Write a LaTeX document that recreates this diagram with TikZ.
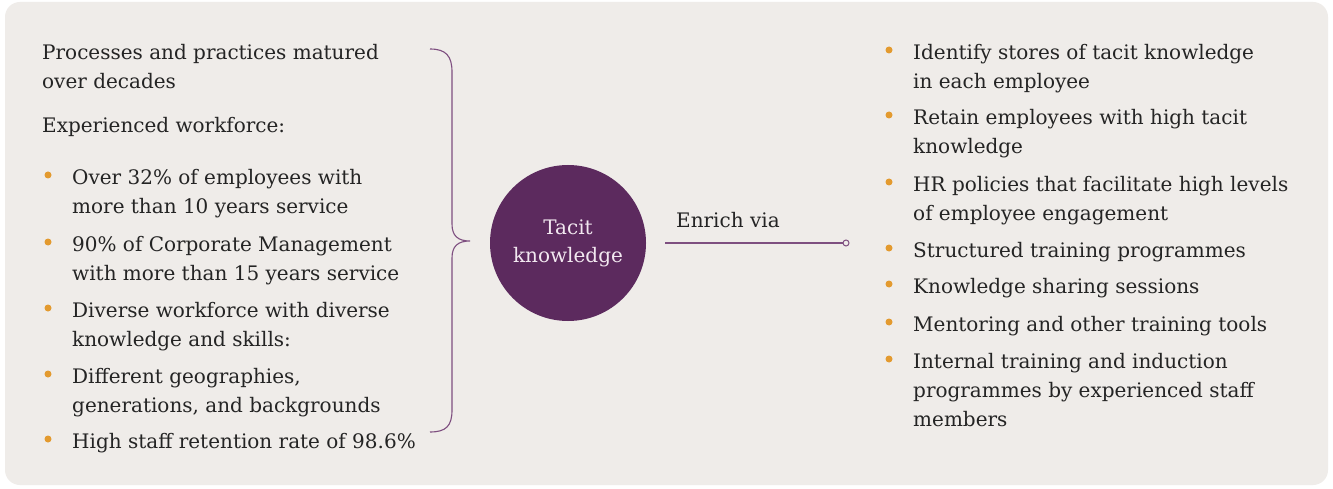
\documentclass[tikz,border=0pt]{standalone}
\usepackage{fontspec}
\setmainfont{DejaVu Serif}
\definecolor{bg}{HTML}{EFECE9}
\definecolor{txt}{HTML}{242424}
\definecolor{bul}{HTML}{E39A2F}
\definecolor{plum}{HTML}{5C2A5E}
\definecolor{lineplum}{HTML}{7E4F80}
\definecolor{ctext}{HTML}{F2E8F0}
\begin{document}
\begin{tikzpicture}[x=1pt,y=-1pt,
  item/.style={anchor=north west, inner sep=0pt, align=left, text=txt, font=\fontsize{20}{29}\selectfont},
  dot/.style={fill=bul},
  brace/.style={draw=lineplum, line width=1.1pt},
  link/.style={draw=lineplum, line width=1.1pt}]
\useasboundingbox (0,0) rectangle (1333,489);
\fill[white] (0,0) rectangle (1333,489);
\fill[bg, rounded corners=15pt] (5,2) rectangle (1328,485);
% left column
\node[item] (l1) at (42,38.7) {\strut Processes and practices matured\\over decades};
\node[item] (l2) at (42,111.7) {\strut Experienced workforce:};
\node[item] (l3) at (72,163.7) {\strut Over 32\% of employees with\\more than 10 years service};
\node[item] (l4) at (72,230.7) {\strut 90\% of Corporate Management\\with more than 15 years service};
\node[item] (l5) at (72,296.7) {\strut Diverse workforce with diverse\\knowledge and skills:};
\node[item] (l6) at (72,362.7) {\strut Different geographies,\\generations, and backgrounds};
\node[item] (l7) at (72,427.7) {\strut High staff retention rate of 98.6\%};
\foreach \y in {175,242,308,374,439} \fill[dot] (48,\y) circle (3.5);
% brace
\draw[brace] (430,49) .. controls (446,49) and (452,56) .. (452,72) -- (452,224)
  .. controls (452,236) and (458,241) .. (470,241)
  .. controls (458,241) and (452,246) .. (452,258) -- (452,410)
  .. controls (452,426) and (446,432) .. (430,432);
% centre
\node[circle, fill=plum, minimum size=156pt, inner sep=0pt, align=center, text=ctext,
  font=\fontsize{20}{28}\selectfont] (tk) at (568,243) {Tacit\\knowledge};
\node[circle, draw=lineplum, line width=1pt, fill=bg, minimum size=6pt, inner sep=0pt] (end) at (846,243) {};
\draw[link] ([xshift=19pt]tk.east) -- (end.west);
\node[anchor=base west, inner sep=0pt, text=txt, font=\fontsize{20}{29}\selectfont] (ev) at (676,228) {Enrich via};
% right column
\node[item] (r1) at (913,38.7) {\strut Identify stores of tacit knowledge\\in each employee};
\node[item] (r2) at (913,103.7) {\strut Retain employees with high tacit\\knowledge};
\node[item] (r3) at (913,170.7) {\strut HR policies that facilitate high levels\\of employee engagement};
\node[item] (r4) at (913,236.7) {\strut Structured training programmes};
\node[item] (r5) at (913,272.7) {\strut Knowledge sharing sessions};
\node[item] (r6) at (913,310.7) {\strut Mentoring and other training tools};
\node[item] (r7) at (913,347.7) {\strut Internal training and induction\\programmes by experienced staff\\members};
\foreach \y in {50,115,182,248,284,322,359} \fill[dot] (889,\y) circle (3.5);
\end{tikzpicture}
\end{document}
